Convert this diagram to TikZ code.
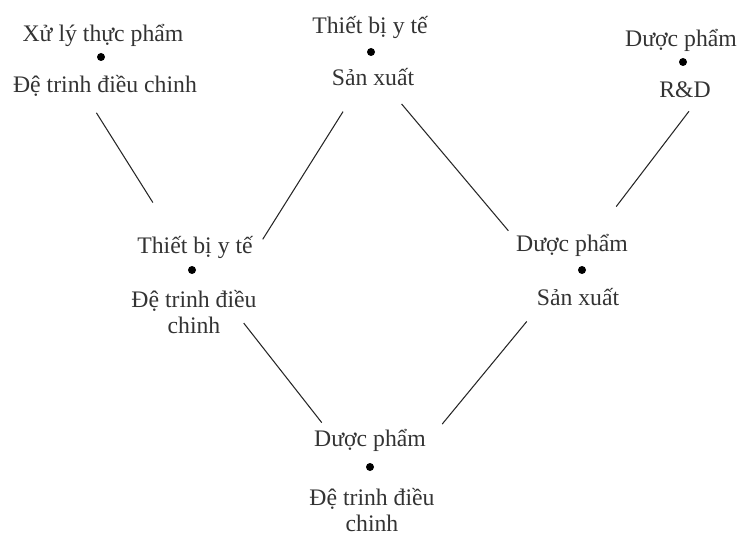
\documentclass[tikz,border=0pt]{standalone}
\usepackage{fontspec}
\setmainfont{Liberation Serif}
\begin{document}
\begin{tikzpicture}[
    x=0.02cm, y=-0.02cm,
    lbl/.style={
        inner sep=1pt, align=center, text=black!80,
        font=\fontsize{13.5}{14.5}\selectfont
    },
    pin/.style={circle, fill=black, inner sep=0pt, minimum size=0.16cm},
    link/.style={draw=black!85, line width=0.6pt}
]
\useasboundingbox (0,0) rectangle (744,537);

% ============================
% ROW 1: top nodes
% ============================

% --- Xu ly thuc pham ---
\node[lbl] (aTop) at (103,35) {Xử lý thực phẩm};
\node[pin] (aDot) at (101,57) {};
\node[lbl] (aBot) at (105,86) {Đệ trinh điều chinh};

% --- Thiet bi y te / San xuat ---
\node[lbl] (bTop) at (370,27) {Thiết bị y tế};
\node[pin] (bDot) at (371,52) {};
\node[lbl] (bBot) at (373,77) {Sản xuất};

% --- Duoc pham / R&D ---
\node[lbl] (cTop) at (681,40) {Dược phẩm};
\node[pin] (cDot) at (683,62) {};
\node[lbl] (cBot) at (685,90) {R\&D};

% ============================
% ROW 2: middle nodes
% ============================

% --- Thiet bi y te / De trinh ---
\node[lbl] (dTop) at (195,247) {Thiết bị y tế};
\node[pin] (dDot) at (192,270) {};
\node[lbl] (dBot) at (194,312) {Đệ trinh điều\\chinh};

% --- Duoc pham / San xuat ---
\node[lbl] (eTop) at (572,245) {Dược phẩm};
\node[pin] (eDot) at (582,270) {};
\node[lbl] (eBot) at (578,297) {Sản xuất};

% ============================
% ROW 3: bottom node
% ============================

\node[lbl] (fTop) at (370,440) {Dược phẩm};
\node[pin] (fDot) at (370,467) {};
\node[lbl] (fBot) at (372,510) {Đệ trinh điều\\chinh};

% ============================
% CONNECTORS
% ============================

\draw[link, shorten <=9.5pt, shorten >=21pt] ([xshift=-0.35cm]aBot.south) -- ([xshift=-0.45cm]dTop.north);
\draw[link, shorten <=16pt, shorten >=8.5pt] ([xshift=-0.3cm]bBot.south) -- ([yshift=-0.1cm]dTop.east);
\draw[link, shorten <=12pt, shorten >=5pt] ([xshift=0.3cm]bBot.south) -- ([yshift=0.15cm]eTop.west);
\draw[link, shorten <=8pt, shorten >=18pt] ([xshift=0.25cm]cBot.south) -- ([xshift=0.5cm]eTop.north);
\draw[link, shorten >=3pt] ([xshift=-0.3cm,yshift=0.25cm]dBot.south east) -- ([xshift=-0.9cm]fTop.north);
\draw[link, shorten <=10pt, shorten >=2pt] ([xshift=-0.8cm]eBot.south) -- ([xshift=1.4cm]fTop.north);

\end{tikzpicture}
\end{document}
